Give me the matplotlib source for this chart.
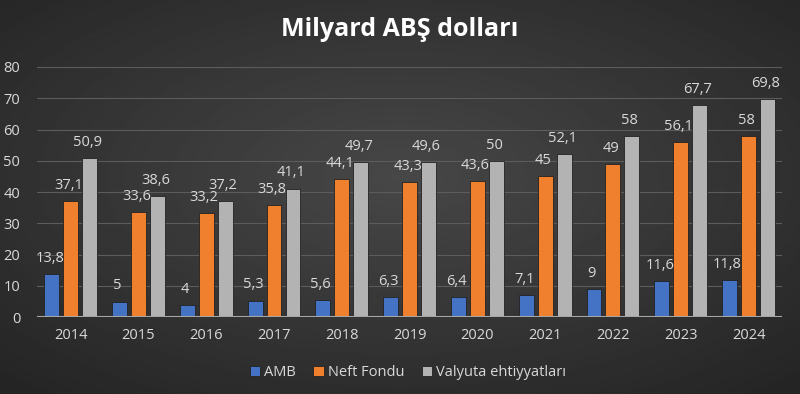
import matplotlib.pyplot as plt
import numpy as np

years = ['2014', '2015', '2016', '2017', '2018', '2019', '2020', '2021', '2022', '2023', '2024']
amb = [13.8, 5, 4, 5.3, 5.6, 6.3, 6.4, 7.1, 9, 11.6, 11.8]
neft = [37.1, 33.6, 33.2, 35.8, 44.1, 43.3, 43.6, 45, 49, 56.1, 58]
valyuta = [50.9, 38.6, 37.2, 41.1, 49.7, 49.6, 50, 52.1, 58, 67.7, 69.8]
series_names = ['AMB', 'Neft Fondu', 'Valyuta ehtiyyatları']
colors = ['#4472c4', '#f07f2e', '#b3b3b3']

plt.rcParams['font.family'] = ['Open Sans', 'DejaVu Sans']
txt = '#d9d9d9'

fig = plt.figure(figsize=(8, 3.94), dpi=100)

# radial gradient background
bg = fig.add_axes([0, 0, 1, 1])
yy, xx = np.mgrid[0:1:200j, 0:1:400j]
r = np.sqrt(((xx - 0.5) / 0.8) ** 2 + ((yy - 0.55) / 0.8) ** 2)
bg.imshow(0.28 - 0.15 * np.clip(r, 0, 1), cmap='gray', vmin=0, vmax=1,
          aspect='auto', extent=[0, 1, 0, 1], origin='lower')
bg.axis('off')

ax = fig.add_axes([0.046, 0.195, 0.932, 0.635])
ax.patch.set_alpha(0)
x = np.arange(len(years))
w = 0.22
step = 0.28
for i, (vals, c) in enumerate(zip([amb, neft, valyuta], colors)):
    pos = x + (i - 1) * step
    ax.bar(pos, vals, w, color=c, edgecolor='#222222', linewidth=0.6,
           label=series_names[i], zorder=3)
    for p, v in zip(pos, vals):
        ax.text(p - 0.03, v + 5, ('%g' % v).replace('.', ','), ha='center', va='center',
                color=txt, fontsize=10.5, zorder=4)

ax.set_xlim(-0.5, len(years) - 0.5)
ax.set_ylim(0, 80)
ax.set_yticks(range(0, 81, 10))
ax.set_xticks(x)
ax.set_xticklabels(years)
ax.grid(axis='y', color='#5c5c5c', linewidth=0.8, zorder=0)
ax.axhline(0, color='#a6a6a6', linewidth=1.5, zorder=5)
for s in ax.spines.values():
    s.set_visible(False)
ax.tick_params(length=0, colors=txt, labelsize=10.5)
ax.tick_params(axis='x', pad=8)
ax.tick_params(axis='y', pad=12)

fig.text(0.5, 0.925, 'Milyard ABŞ dolları', ha='center', va='center',
         color='white', fontsize=18, fontweight='bold')

handles, labels = ax.get_legend_handles_labels()
fig.legend(handles, labels, loc='center', bbox_to_anchor=(0.51, 0.055), ncol=3,
           frameon=False, labelcolor=txt, fontsize=10.5, handlelength=0.7,
           handleheight=0.7, handletextpad=0.3, columnspacing=1.2)

fig.savefig('out.png', dpi=100)
